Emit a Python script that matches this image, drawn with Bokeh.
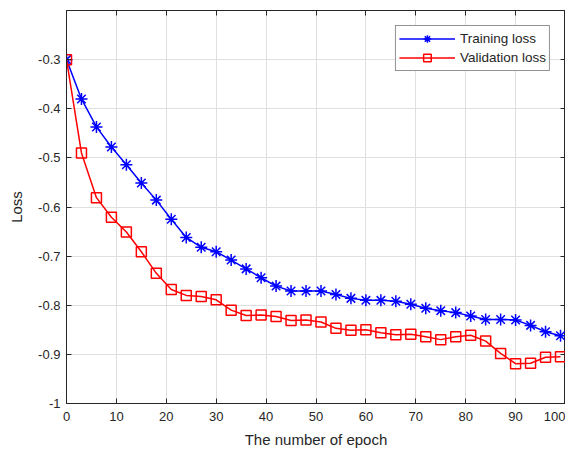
from bokeh.plotting import figure
from bokeh.models import LinearAxis, FixedTicker, Range1d, Legend, LegendItem
from bokeh.embed import file_html
from bokeh.resources import INLINE

epochs = list(range(0, 100, 3))
training_loss = [-0.300, -0.380, -0.437, -0.478, -0.514, -0.551, -0.586, -0.625, -0.662, -0.682,
                 -0.691, -0.708, -0.726, -0.744, -0.761, -0.771, -0.771, -0.771, -0.778, -0.786,
                 -0.790, -0.790, -0.792, -0.798, -0.806, -0.811, -0.815, -0.822, -0.829, -0.829,
                 -0.830, -0.841, -0.854, -0.862]
validation_loss = [-0.300, -0.490, -0.581, -0.621, -0.651, -0.691, -0.735, -0.768, -0.780, -0.782,
                   -0.789, -0.810, -0.821, -0.820, -0.823, -0.831, -0.830, -0.834, -0.847, -0.851,
                   -0.850, -0.856, -0.860, -0.859, -0.864, -0.870, -0.864, -0.861, -0.873, -0.898,
                   -0.919, -0.918, -0.906, -0.905]
x_ticks = [0, 10, 20, 30, 40, 50, 60, 70, 80, 90, 100]
y_ticks = [-1.0, -0.9, -0.8, -0.7, -0.6, -0.5, -0.4, -0.3]
y_tick_labels = {-1.0: "-1", -0.9: "-0.9", -0.8: "-0.8", -0.7: "-0.7", -0.6: "-0.6",
                 -0.5: "-0.5", -0.4: "-0.4", -0.3: "-0.3"}

FONT = "Liberation Sans"
INK = "#262626"

p = figure(width=565, height=450, output_backend="svg", toolbar_location=None,
           x_range=Range1d(0, 100), y_range=Range1d(-1.0, -0.2),
           min_border_left=66, min_border_right=0, min_border_top=10, min_border_bottom=45)

p.outline_line_color = INK
p.outline_line_width = 1

for ax in (p.xaxis[0], p.yaxis[0]):
    ax.major_tick_in = 5
    ax.major_tick_out = 0
    ax.minor_tick_line_color = None
    ax.axis_line_color = INK
    ax.major_tick_line_color = INK
    ax.major_label_text_font = FONT
    ax.major_label_text_font_size = "13px"
    ax.major_label_text_color = INK
    ax.axis_label_text_font = FONT
    ax.axis_label_text_font_size = "15px"
    ax.axis_label_text_font_style = "normal"
    ax.axis_label_text_color = INK

p.xaxis[0].ticker = FixedTicker(ticks=x_ticks)
p.yaxis[0].ticker = FixedTicker(ticks=y_ticks)
p.yaxis[0].major_label_overrides = y_tick_labels
p.xaxis[0].axis_label = "The number of epoch"
p.yaxis[0].axis_label = "Loss"
p.xaxis[0].major_label_standoff = 8
p.yaxis[0].major_label_standoff = 6
p.xaxis[0].axis_label_standoff = 7
p.yaxis[0].axis_label_standoff = 10

top_ax = LinearAxis(ticker=FixedTicker(ticks=x_ticks),
                    major_label_overrides={t: "" for t in x_ticks},
                    major_tick_in=5, major_tick_out=0, minor_tick_line_color=None,
                    axis_line_color=INK, major_tick_line_color=INK,
                    major_label_standoff=0)
right_ax = LinearAxis(ticker=FixedTicker(ticks=y_ticks),
                      major_label_overrides={t: "" for t in y_ticks},
                      major_tick_in=5, major_tick_out=0, minor_tick_line_color=None,
                      axis_line_color=INK, major_tick_line_color=INK,
                      major_label_standoff=0)
p.add_layout(top_ax, "above")
p.add_layout(right_ax, "right")

for g in (p.xgrid[0], p.ygrid[0]):
    g.grid_line_color = "#dfdfdf"
    g.grid_line_width = 1
p.xgrid[0].ticker = FixedTicker(ticks=x_ticks)
p.ygrid[0].ticker = FixedTicker(ticks=y_ticks)

tl = p.line(epochs, training_loss, line_color="blue", line_width=1.5)
ts = p.scatter(epochs, training_loss, marker="asterisk", size=12, line_color="blue",
               line_width=1.5)
vl = p.line(epochs, validation_loss, line_color="red", line_width=1.5)
vs = p.scatter(epochs, validation_loss, marker="square", size=10, line_color="red",
               fill_color=None, line_width=1.5)

legend = Legend(items=[LegendItem(label="Training loss", renderers=[tl, ts]),
                       LegendItem(label="Validation loss", renderers=[vl, vs])],
                location="top_right")
legend.label_text_font = FONT
legend.label_text_font_size = "13.5px"
legend.label_text_color = INK
legend.border_line_color = INK
legend.border_line_width = 1
legend.margin = 15
legend.padding = 3
legend.spacing = 0
legend.glyph_width = 56
legend.glyph_height = 19
legend.label_standoff = 5
legend.label_height = 19
p.add_layout(legend)

open("out.html", "w").write(file_html(p, INLINE))
